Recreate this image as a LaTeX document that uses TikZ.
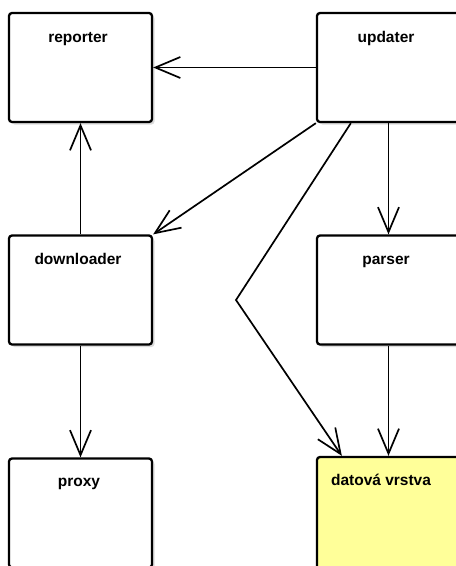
\documentclass[tikz,border=0pt]{standalone}
\usepackage{fontspec}
\setmainfont{Liberation Sans}
\usetikzlibrary{arrows.meta,shadows}
\definecolor{datafill}{HTML}{FFFF99}
\begin{document}
\begin{tikzpicture}[x=1pt,y=-1pt,
  module/.style={draw,line width=2.3pt,rounded corners=3pt,fill=white,
    minimum width=143pt,minimum height=109pt,inner sep=0pt,
    drop shadow={shadow xshift=2.5pt,shadow yshift=-2.5pt,fill=black!14,opacity=1}},
  title/.style={font=\fontsize{15.5}{18}\selectfont\bfseries,anchor=base,inner sep=0pt},
  dep/.style={line width=1.7pt,-{Straight Barb[length=25pt,width=21pt,line width=1.7pt]}}]
\useasboundingbox (0,0) rectangle (456,566);
\clip (0,0) rectangle (456,566);

% modules
\node[module] (reporter)   at (80.5,67.5)  {};
\node[module] (updater)    at (388.5,67.5) {};
\node[module] (downloader) at (80.5,290)   {};
\node[module] (parser)     at (388.5,290)  {};
\node[module] (proxy)      at (80.5,513)   {};
\node[module,fill=datafill,minimum height=115pt] (datova) at (388.5,514.5) {};

% module names
\node[title] (treporter)   at (78,42)   {reporter};
\node[title] (tupdater)    at (386,42)  {updater};
\node[title] (tdownloader) at (78,264)  {downloader};
\node[title] (tparser)     at (386,264) {parser};
\node[title] (tproxy)      at (79,486)  {proxy};
\node[title] (tdatova)     at (381,485) {datová vrstva};

% dependencies
\coordinate (bend) at (236,300);
\draw[dep] (updater.west) -- (reporter.east);
\draw[dep] (updater.south west) -- (downloader.north east);
\draw[dep] (updater.south) -- (parser.north);
\draw[dep] ([xshift=35pt]updater.south west) -- (bend) -- ([xshift=26pt]datova.north west);
\draw[dep] (downloader.north) -- (reporter.south);
\draw[dep] (downloader.south) -- (proxy.north);
\draw[dep] (parser.south) -- (datova.north);
\end{tikzpicture}
\end{document}
